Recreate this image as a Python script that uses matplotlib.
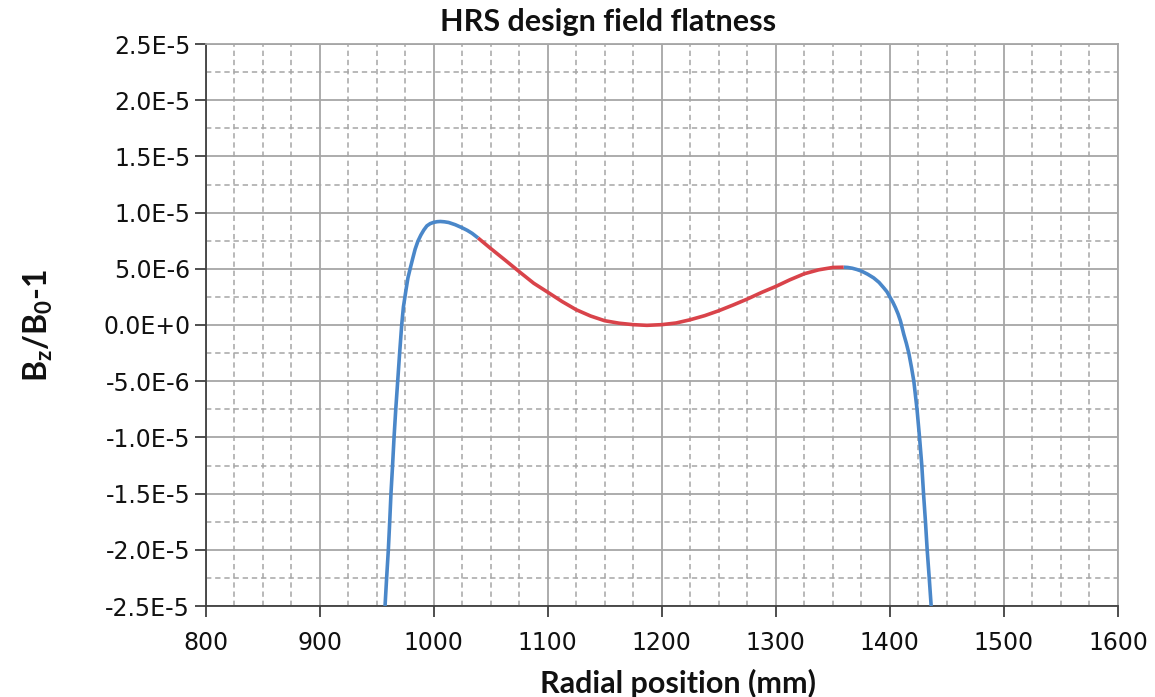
import numpy as np
import matplotlib
matplotlib.use("Agg")
import matplotlib.pyplot as plt
from matplotlib.ticker import FixedLocator, FuncFormatter

# ---- data (radial position in mm, field deviation in units of 1e-6) ----
r_left = [957.4, 958.8, 960.3, 961.5, 962.6, 964.0, 965.3, 966.8, 968.5, 970.2,
          972.0, 973.5, 975.9, 977.5, 979.4, 981.5, 983.8, 986.2, 988.8, 991.4,
          994.1, 997.0, 1000.0, 1003.0, 1005.9, 1009.5, 1013.2, 1019.0, 1025.0,
          1029.5, 1033.8, 1039.0]
d_left = [-25.0, -22.5, -20.0, -17.5, -15.0, -12.5, -10.0, -7.5, -5.0, -2.5,
          0.0, 1.6, 3.2, 4.2, 5.0, 5.85, 6.75, 7.45, 8.0, 8.45,
          8.82, 9.02, 9.13, 9.19, 9.21, 9.18, 9.12, 8.92, 8.65,
          8.42, 8.15, 7.74]

r_mid = [1039.0, 1050.0, 1062.6, 1075.0, 1087.7, 1100.0, 1112.6, 1125.0,
         1137.6, 1150.0, 1162.6, 1175.0, 1187.0, 1200.0, 1212.6, 1225.0,
         1237.6, 1250.0, 1262.6, 1275.0, 1287.6, 1300.0, 1312.3, 1325.0,
         1337.6, 1350.0, 1359.5]
d_mid = [7.74, 6.81, 5.78, 4.75, 3.72, 2.92, 2.09, 1.36,
         0.80, 0.38, 0.16, 0.03, -0.03, 0.03, 0.18, 0.47,
         0.83, 1.27, 1.78, 2.31, 2.90, 3.43, 4.02, 4.56,
         4.91, 5.12, 5.14]

r_right = [1359.5, 1363.0, 1367.0, 1371.0, 1375.0, 1380.5, 1385.8, 1390.5,
           1394.6, 1397.5, 1399.9, 1402.5, 1404.9, 1407.2, 1409.3, 1412.2,
           1414.5, 1416.6, 1419.0, 1421.0, 1423.8, 1426.0, 1428.0, 1429.5,
           1431.2, 1432.7, 1434.5, 1436.2]
d_right = [5.14, 5.12, 5.05, 4.94, 4.80, 4.52, 4.19, 3.79,
           3.31, 2.95, 2.51, 2.05, 1.54, 0.98, 0.35, -0.83,
           -1.65, -2.5, -3.8, -5.0, -7.5, -10.0, -12.5, -15.0,
           -17.5, -20.0, -22.5, -25.0]

x_ticks = [800, 900, 1000, 1100, 1200, 1300, 1400, 1500, 1600]
y_ticks = [-25, -20, -15, -10, -5, 0, 5, 10, 15, 20, 25]   # x 1e-6

title = "HRS design field flatness"
x_label = "Radial position (mm)"

BLUE = "#4a87c9"
RED = "#d9434a"

plt.rcParams["mathtext.fontset"] = "custom"
plt.rcParams["mathtext.rm"] = "Lato"
plt.rcParams["mathtext.bf"] = "Lato:bold"
plt.rcParams["mathtext.it"] = "Lato:italic"

fig = plt.figure(figsize=(11.55, 6.97), dpi=100)
ax = fig.add_axes([205.5 / 1155, 1 - 606 / 697, (1118 - 205.5) / 1155, (606 - 44) / 697])

kw = dict(lw=2.6, solid_capstyle="butt", solid_joinstyle="round")
ax.plot(r_left, d_left, color=BLUE, zorder=3, **kw)
ax.plot(r_right, d_right, color=BLUE, zorder=3, **kw)
ax.plot(r_mid, d_mid, color=RED, zorder=4, **kw)

ax.set_xlim(x_ticks[0], x_ticks[-1])
ax.set_ylim(y_ticks[0], y_ticks[-1])

ax.xaxis.set_major_locator(FixedLocator(x_ticks))
ax.yaxis.set_major_locator(FixedLocator(y_ticks))
ax.xaxis.set_minor_locator(FixedLocator(np.arange(x_ticks[0], x_ticks[-1] + 1, 25)))
ax.yaxis.set_minor_locator(FixedLocator(np.arange(y_ticks[0], y_ticks[-1] + 0.1, 2.5)))


def fmt(v, pos):
    m, e = f"{v * 1e-6:.1E}".split("E")
    e = int(e)
    return f"{m}E+0" if e == 0 else f"{m}E{e}"


ax.yaxis.set_major_formatter(FuncFormatter(fmt))

ax.grid(which="major", color="#a6a6a6", lw=1.3, ls="-", zorder=1)
ax.grid(which="minor", color="#a6a6a6", lw=1.1, ls=(0, (3.5, 2.5)), zorder=1)
ax.set_axisbelow(True)

for side in ("top", "right"):
    ax.spines[side].set_color("#a6a6a6")
    ax.spines[side].set_linewidth(1.3)
for side in ("left", "bottom"):
    ax.spines[side].set_color("#404040")
    ax.spines[side].set_linewidth(1.3)

ax.tick_params(which="major", direction="out", length=8, width=1.3, color="#404040",
               labelsize=17, labelcolor="#111111", pad=3)
ax.tick_params(which="minor", length=0)
ax.tick_params(axis="x", pad=10)

fig.text(608 / 1155, 1 - 22 / 697, title, ha="center", va="center",
         fontsize=22, fontweight="bold", family="Lato", color="#111111")
fig.text(678 / 1155, 1 - 683 / 697, x_label, ha="center", va="center",
         fontsize=22, fontweight="bold", family="Lato", color="#111111")
fig.text(38 / 1155, 1 - 325 / 697, r"$\mathbf{B_z/B_0}$-1", ha="center", va="center",
         rotation=90, fontsize=23, fontweight="bold", family="Lato", color="#111111")

fig.savefig("out.png", dpi=100)
